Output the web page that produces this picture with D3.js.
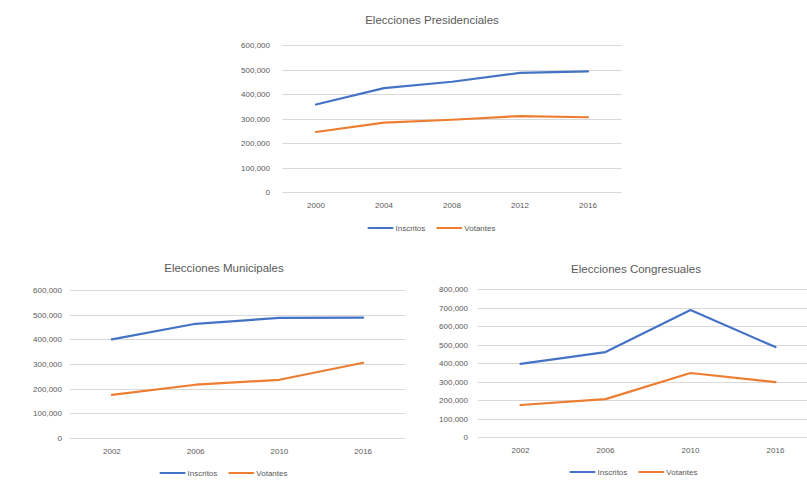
<!DOCTYPE html>
<html>
<head>
<meta charset="utf-8">
<script src="https://cdn.jsdelivr.net/npm/d3@7"></script>
<style>
  html, body { margin: 0; padding: 0; background: #fff; }
  svg { display: block; font-family: "Liberation Sans", Arial, sans-serif; }
</style>
</head>
<body>
<svg id="chart" width="807" height="480"></svg>
<script>
// ---- Data ----
const seriesNames = ["Inscritos", "Votantes"];

const presTitle = "Elecciones Presidenciales";
const presYears = ["2000", "2004", "2008", "2012", "2016"];
const presInscritos = [357000, 424000, 450000, 486000, 492000];
const presVotantes = [245000, 283000, 295000, 310000, 305000];
const presTicks = [0, 100000, 200000, 300000, 400000, 500000, 600000];

const munTitle = "Elecciones Municipales";
const munYears = ["2002", "2006", "2010", "2016"];
const munInscritos = [400000, 463000, 487000, 488000];
const munVotantes = [175000, 216000, 236000, 305000];
const munTicks = [0, 100000, 200000, 300000, 400000, 500000, 600000];

const congTitle = "Elecciones Congresuales";
const congYears = ["2002", "2006", "2010", "2016"];
const congInscritos = [395000, 459000, 686000, 486000];
const congVotantes = [173000, 205000, 346000, 297000];
const congTicks = [0, 100000, 200000, 300000, 400000, 500000, 600000, 700000, 800000];

// ---- Styling / layout ----
const colors = ["#4472C4", "#ED7D31"];
const fmt = d3.format(",");
const svg = d3.select("#chart");

function drawChart(cfg) {
  const { title, years, series, ticks, left, right, top, bottom, titleX, titleY, legendX, legendY, labelGap } = cfg;
  const g = svg.append("g");
  const x = d3.scaleBand().domain(years).range([left, right]).paddingInner(0).paddingOuter(0);
  const y = d3.scaleLinear().domain([ticks[0], ticks[ticks.length - 1]]).range([bottom, top]);

  // gridlines
  g.append("g").selectAll("line").data(ticks).join("line")
    .attr("x1", left).attr("x2", right)
    .attr("y1", d => Math.round(y(d)) + 0.5).attr("y2", d => Math.round(y(d)) + 0.5)
    .attr("stroke", "#D9D9D9").attr("stroke-width", 1);

  // y axis labels
  const yAxis = d3.axisLeft(y).tickValues(ticks).tickFormat(d => fmt(d)).tickSize(0).tickPadding(labelGap);
  const ya = g.append("g").attr("transform", `translate(${left},0)`).call(yAxis);
  ya.select(".domain").remove();
  ya.selectAll("text").attr("fill", "#595959").style("font-size", "8px").style("font-family", "Liberation Sans, Arial, sans-serif");

  // x axis labels
  const xAxis = d3.axisBottom(x).tickSize(0).tickPadding(10);
  const xa = g.append("g").attr("transform", `translate(0,${bottom})`).call(xAxis);
  xa.select(".domain").remove();
  xa.selectAll("text").attr("fill", "#595959").style("font-size", "8px").style("font-family", "Liberation Sans, Arial, sans-serif");

  // lines
  const line = d3.line().x((d, i) => x(years[i]) + x.bandwidth() / 2).y(d => y(d));
  series.forEach((vals, i) => {
    g.append("path").datum(vals)
      .attr("d", line).attr("fill", "none")
      .attr("stroke", colors[i]).attr("stroke-width", 2.2)
      .attr("stroke-linejoin", "round").attr("stroke-linecap", "round");
  });

  // title
  g.append("text").attr("x", titleX).attr("y", titleY)
    .attr("text-anchor", "middle").attr("fill", "#595959")
    .style("font-size", "11.5px").text(title);

  // legend
  const lg = g.append("g");
  let cx = 0;
  const items = [];
  seriesNames.forEach((name, i) => {
    const it = lg.append("g").attr("transform", `translate(${cx},0)`);
    it.append("line").attr("x1", 0).attr("x2", 24).attr("y1", 0).attr("y2", 0)
      .attr("stroke", colors[i]).attr("stroke-width", 2.2).attr("stroke-linecap", "round");
    const t = it.append("text").attr("x", 27).attr("y", 3).attr("fill", "#595959")
      .style("font-size", "8px").text(name);
    const w = 27 + t.node().getComputedTextLength();
    cx += w + 12;
  });
  const totalW = cx - 12;
  lg.attr("transform", `translate(${legendX - totalW / 2},${legendY})`);
}

drawChart({
  title: presTitle, years: presYears, series: [presInscritos, presVotantes], ticks: presTicks,
  left: 282, right: 622, top: 45, bottom: 192,
  titleX: 432, titleY: 24, legendX: 432, legendY: 228, labelGap: 12
});

drawChart({
  title: munTitle, years: munYears, series: [munInscritos, munVotantes], ticks: munTicks,
  left: 70, right: 405, top: 290, bottom: 438,
  titleX: 224, titleY: 272, legendX: 224, legendY: 473, labelGap: 8
});

drawChart({
  title: congTitle, years: congYears, series: [congInscritos, congVotantes], ticks: congTicks,
  left: 478, right: 818, top: 289, bottom: 437,
  titleX: 636, titleY: 273, legendX: 634, legendY: 472, labelGap: 10
});
</script>
</body>
</html>
